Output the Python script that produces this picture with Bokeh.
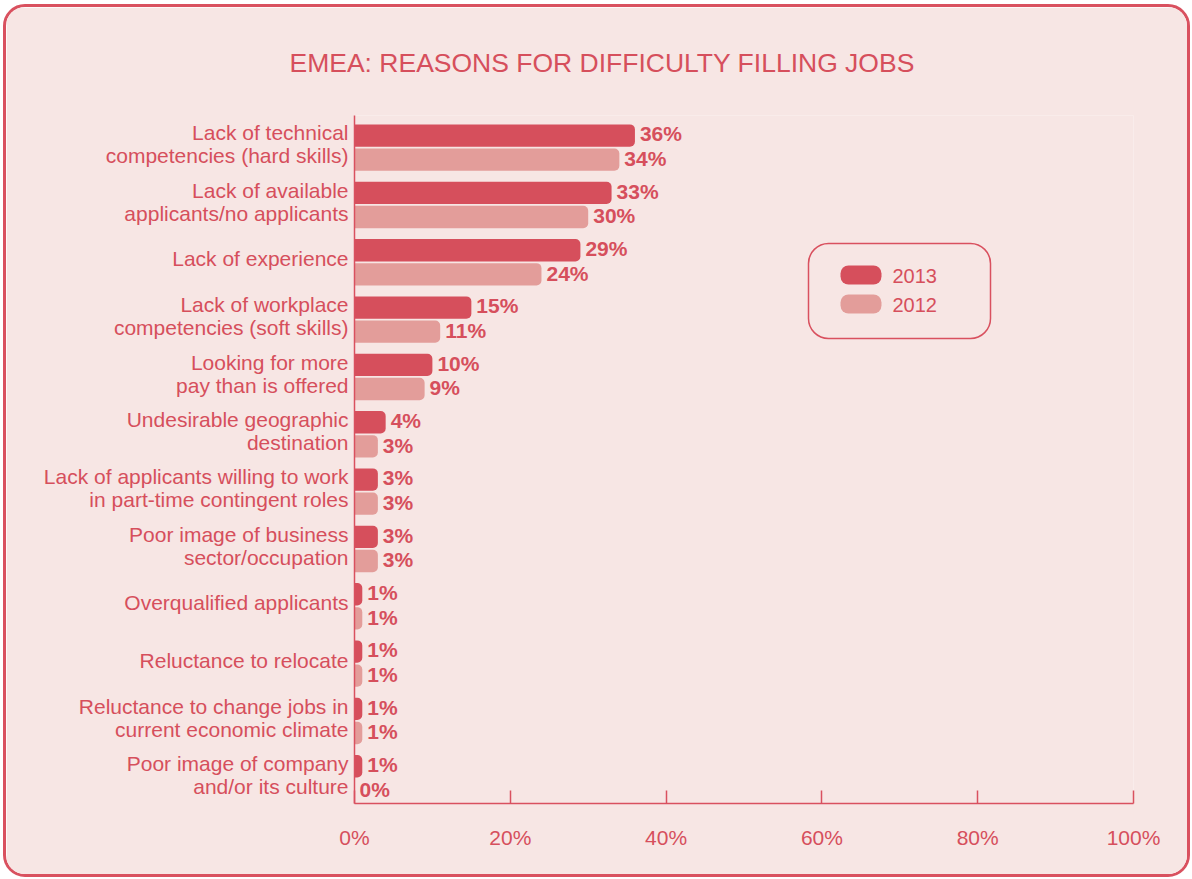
from bokeh.plotting import figure
from bokeh.models import (ColumnDataSource, FactorRange, BoxAnnotation, Label,
                          FixedTicker, CustomJSTickFormatter)
from bokeh.transform import dodge
from bokeh.core.properties import value
from bokeh.embed import file_html
from bokeh.resources import INLINE

title = "EMEA: REASONS FOR DIFFICULTY FILLING JOBS"
categories = [
    "Lack of technical\ncompetencies (hard skills)",
    "Lack of available\napplicants/no applicants",
    "Lack of experience",
    "Lack of workplace\ncompetencies (soft skills)",
    "Looking for more\npay than is offered",
    "Undesirable geographic\ndestination",
    "Lack of applicants willing to work\nin part-time contingent roles",
    "Poor image of business\nsector/occupation",
    "Overqualified applicants",
    "Reluctance to relocate",
    "Reluctance to change jobs in\ncurrent economic climate",
    "Poor image of company\nand/or its culture",
]
values_2013 = [36, 33, 29, 15, 10, 4, 3, 3, 1, 1, 1, 1]
values_2012 = [34, 30, 24, 11, 9, 3, 3, 3, 1, 1, 1, 0]
series_names = ["2013", "2012"]
x_ticks = [0, 20, 40, 60, 80, 100]

RED = "#d64f5c"
LINE = "#d9515f"
PINK = "#e39d9a"
BG = "#f7e6e4"
FONT = "Liberation Sans"

src = ColumnDataSource(dict(
    cat=categories,
    v13=values_2013,
    v12=values_2012,
    l13=[f"{v}%" for v in values_2013],
    l12=[f"{v}%" for v in values_2012],
))

W, H = 1187, 873
p = figure(width=W, height=H, output_backend="svg", toolbar_location=None,
           y_range=FactorRange(factors=list(reversed(categories)), range_padding=0),
           x_range=(0, 100),
           min_border_left=348, min_border_right=60, min_border_top=108, min_border_bottom=77)
p.border_fill_color = BG
p.background_fill_color = BG
p.outline_line_color = None
p.grid.visible = False
p.styles = {"border": f"3px solid {LINE}", "border-radius": "22px", "overflow": "hidden",
            "margin-left": "3px", "margin-top": "4px"}

# title
p.title.text = title
p.title.align = "left"
p.title.offset = -65
p.title.standoff = 76
p.title.text_font = FONT
p.title.text_font_size = "26.5px"
p.title.text_font_style = "normal"
p.title.text_color = RED

off13, off12 = 0.15, -0.27
p.hbar(y=dodge("cat", off13, range=p.y_range), right="v13", left=0, height=0.39,
       source=src, fill_color=RED, line_color=None, border_radius=(0, 5, 5, 0))
p.hbar(y=dodge("cat", off12, range=p.y_range), right="v12", left=0, height=0.39,
       source=src, fill_color=PINK, line_color=None, border_radius=(0, 5, 5, 0))

for fld, lbl, off in (("v13", "l13", off13 + 0.03), ("v12", "l12", off12 + 0.02)):
    p.text(x=fld, y=dodge("cat", off, range=p.y_range), text=lbl, source=src,
           x_offset=5, text_align="left", text_baseline="middle",
           text_font=value(FONT), text_font_size="21px", text_font_style="bold",
           text_color=RED)

# axes
xa = p.xaxis[0]
xa.ticker = FixedTicker(ticks=x_ticks)
xa.formatter = CustomJSTickFormatter(code="return tick + '%';")
xa.axis_line_color = LINE
xa.axis_line_width = 1.5
xa.major_tick_line_color = LINE
xa.major_tick_line_width = 1.5
xa.major_tick_in = 13
xa.major_tick_out = 0
xa.minor_tick_line_color = None
xa.major_label_standoff = 22
xa.major_label_text_font = FONT
xa.major_label_text_font_size = "21px"
xa.major_label_text_color = RED

ya = p.yaxis[0]
ya.axis_line_color = LINE
ya.axis_line_width = 1.5
ya.major_tick_line_color = None
ya.minor_tick_line_color = None
ya.major_label_standoff = 0
ya.major_label_text_font = FONT
ya.major_label_text_font_size = "21px"
ya.major_label_text_line_height = 1.0
ya.major_label_text_color = RED

# legend (manual)
p.add_layout(BoxAnnotation(left=799, right=981, top=233, bottom=328,
                           left_units="canvas", right_units="canvas",
                           top_units="canvas", bottom_units="canvas",
                           fill_alpha=0, line_color=LINE, line_alpha=1, line_width=1.5,
                           border_radius=20))
for i, (name, col) in enumerate(zip(series_names, [RED, PINK])):
    top = 255 + i * 29
    p.add_layout(BoxAnnotation(left=831, right=872, top=top, bottom=top + 19,
                               left_units="canvas", right_units="canvas",
                               top_units="canvas", bottom_units="canvas",
                               fill_color=col, fill_alpha=1, line_color=None,
                               border_radius=8))
    p.add_layout(Label(x=883, y=top + 10, x_units="canvas", y_units="canvas", text=name,
                       text_align="left", text_baseline="middle",
                       text_font=FONT, text_font_size="20px", text_color=RED))

open("out.html", "w").write(file_html(p, INLINE))
